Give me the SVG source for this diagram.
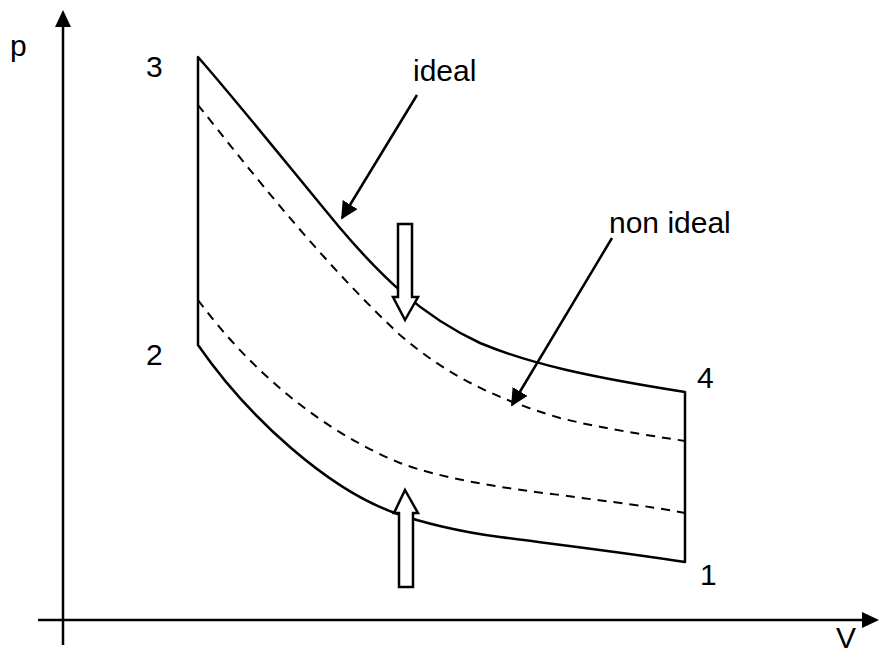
<svg xmlns="http://www.w3.org/2000/svg" width="879" height="657" viewBox="0 0 879 657">
<defs>
<style>
.ln{fill:none;stroke:#000;stroke-width:2.5;stroke-linejoin:round}
.dash{fill:none;stroke:#000;stroke-width:2;stroke-dasharray:9 7}
.hollow{fill:#fff;stroke:#000;stroke-width:2.5;stroke-linejoin:miter}
text{font-family:"Liberation Sans",Arial,sans-serif;font-size:30px;fill:#000}
</style>
<marker id="ah" viewBox="0 0 10 10" refX="9" refY="5" markerWidth="7" markerHeight="7" orient="auto" markerUnits="strokeWidth">
<path d="M0,0 L10,5 L0,10 z" fill="#000"/>
</marker>
</defs>
<g id="axes">
<line class="ln" x1="63" y1="645" x2="63" y2="26"/>
<path d="M63,10 L55,27 L71,27 z" fill="#000"/>
<line class="ln" x1="38" y1="620" x2="862" y2="620"/>
<path d="M879,620 L862,612 L862,628 z" fill="#000"/>
</g>
<g id="cycle-ideal">
<path class="ln" d="M198,345 L198,57 C240,105 300,180 340,228 C380,275 420,315 480,343 C530,364 590,377 685,392 L685,562 C620,552 560,545 500,537 C460,532 420,522 395,513 C330,490 250,420 198,345 Z"/>
</g>
<g id="cycle-nonideal">
<path class="dash" d="M198,105 C250,170 320,260 400,335 C450,378 500,400 560,418 C600,428 640,434 685,441"/>
<path class="dash" d="M198,300 C250,370 320,430 400,463 C440,478 500,488 560,495 C610,502 650,506 685,513"/>
</g>
<g id="arrow-down">
<path class="hollow" d="M398,224 L412,224 L412,297 L418,297 L405,320 L393,297 L398,297 Z"/>
</g>
<g id="arrow-up">
<path class="hollow" d="M405,490 L418,513 L413,513 L413,587 L399,587 L399,513 L394,513 Z"/>
</g>
<g id="connectors">
<line x1="417" y1="95" x2="342" y2="218" stroke="#000" stroke-width="2.5" marker-end="url(#ah)"/>
<line x1="612" y1="238" x2="512" y2="405" stroke="#000" stroke-width="2.5" marker-end="url(#ah)"/>
</g>
<g id="labels">
<text x="10" y="56">p</text>
<text x="836" y="648">V</text>
<text x="146" y="77">3</text>
<text x="146" y="365">2</text>
<text x="697" y="388">4</text>
<text x="700" y="585">1</text>
<text x="413" y="81">ideal</text>
<text x="609" y="233">non ideal</text>
</g>
</svg>
